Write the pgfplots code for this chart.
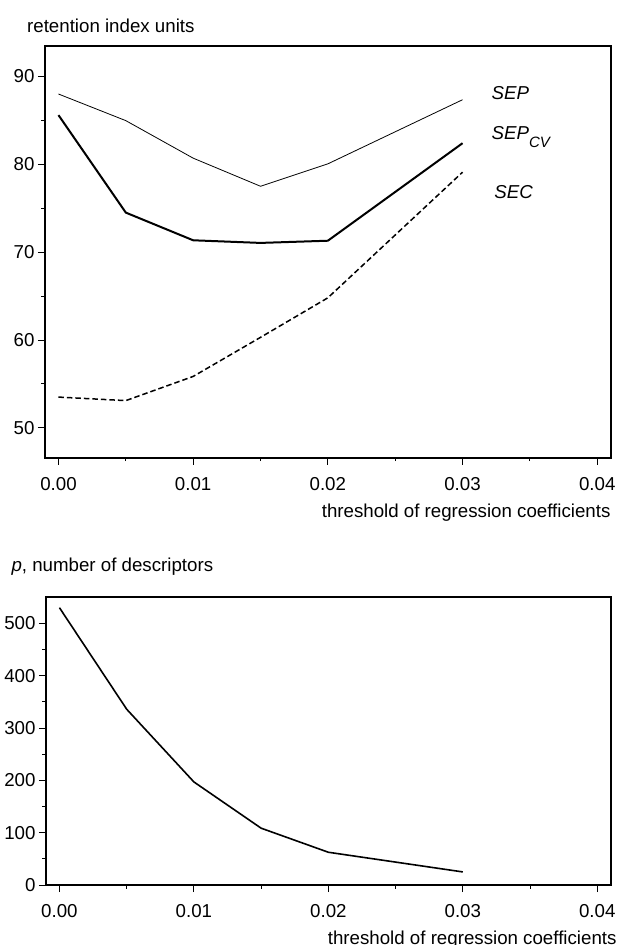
\documentclass[border=0pt]{standalone}
\usepackage{pgfplots}
\pgfplotsset{compat=1.18}
\usepackage{fontspec}
\setmainfont{Liberation Sans}
\pgfplotsset{
  myax/.style={
    scale only axis,
    axis line style={line width=1.6bp},
    tick align=outside, tick pos=left,
    major tick length=7bp, minor tick length=3.5bp,
    every tick/.style={black, line width=0.9bp},
    /pgf/number format/assume math mode=true,
    scaled x ticks=false, scaled y ticks=false,
    xmin=-0.001, xmax=0.041,
    xtick={0,0.01,0.02,0.03,0.04},
    xticklabels={0.00,0.01,0.02,0.03,0.04},
    minor x tick num=1, minor y tick num=1,
    tick label style={font=\fontsize{18.7bp}{22bp}\selectfont},
    xticklabel style={yshift=-9bp},
    label style={font=\fontsize{18.7bp}{22bp}\selectfont},
  }
}
\begin{document}
\begin{tikzpicture}[font=\fontsize{18.7bp}{22bp}\selectfont]
\path[use as bounding box] (0bp,0bp) rectangle (618bp,-945bp);
\begin{axis}[myax,
  at={(45bp,-45.7bp)}, anchor=north west,
  width=565.7bp, height=412bp,
  ymin=46.6, ymax=93.5,
  ytick={50,60,70,80,90},
  xlabel={threshold of regression coefficients},
  every axis x label/.style={at={(axis description cs:1.0058,-0.1342)}, anchor=east},
  ylabel={retention index units},
  every axis y label/.style={at={(axis description cs:-0.0378,1.0488)}, anchor=west},
]
\addplot[black, line width=0.8bp, line join=round] coordinates {(0,88.0)(0.005,84.97)(0.01,80.7)(0.015,77.5)(0.02,80.05)(0.03,87.35)};
\addplot[black, line width=2bp, line join=round] coordinates {(0,85.6)(0.005,74.5)(0.01,71.35)(0.015,71.05)(0.02,71.3)(0.03,82.4)};
\addplot[black, line width=1.5bp, dash pattern=on 5.5bp off 3bp] coordinates {(0,53.5)(0.005,53.1)(0.01,55.85)(0.015,60.3)(0.02,64.8)(0.03,79.1)};
\node[anchor=west, font=\fontsize{18.7bp}{22bp}\selectfont\itshape] at (axis cs:0.0319,88.15) {SEP};
\node[anchor=west, font=\fontsize{18.7bp}{22bp}\selectfont\itshape] at (axis cs:0.0319,83.15) {SEP\raisebox{-8bp}{\fontsize{15bp}{16bp}\selectfont CV}};
\node[anchor=west, font=\fontsize{18.7bp}{22bp}\selectfont\itshape] at (axis cs:0.0321,76.8) {SEC};
\end{axis}
\begin{axis}[myax,
  at={(46bp,-596.7bp)}, anchor=north west,
  width=564.7bp, height=288.3bp,
  ymin=0, ymax=551,
  ytick={0,100,200,300,400,500},
  xlabel={threshold of regression coefficients},
  every axis x label/.style={at={(axis description cs:1.0165,-0.19)}, anchor=east},
  ylabel={\textit{p}, number of descriptors},
  every axis y label/.style={at={(axis description cs:-0.0673,1.103)}, anchor=west},
]
\addplot[black, line width=1.6bp, line join=round] coordinates {(0,530)(0.005,336)(0.01,197)(0.015,108.6)(0.02,62.6)(0.03,25)};
\end{axis}
\end{tikzpicture}
\end{document}
